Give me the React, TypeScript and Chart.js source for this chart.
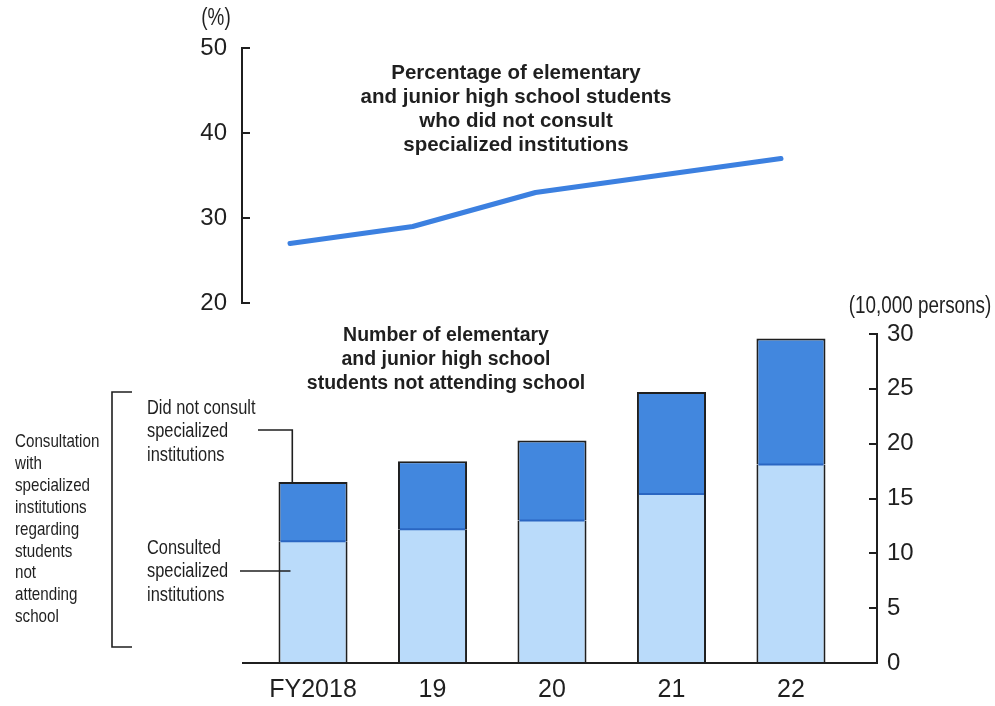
import React, { useEffect, useRef } from "react";
import { Chart, registerables } from "chart.js";

Chart.register(...registerables);

// Fiscal years on the horizontal axis
const years = ["FY2018", "19", "20", "21", "22"];
// Elementary and junior high school students not attending school (10,000 persons)
const consulted = [11.1, 12.2, 13.0, 15.4, 18.1];
const notConsulted = [5.4, 6.2, 7.3, 9.3, 11.5];
// Share of those students who did not consult specialized institutions (%)
const notConsultedShare = [27, 29, 33, 35, 37];
const shareTicks = [20, 30, 40, 50];
const countTicks = [0, 5, 10, 15, 20, 25, 30];

const W = 995;
const H = 706;
const INK = "#1f1f1f";
const DARK = "#4287de";
const LIGHT = "#badbfa";
const SPLIT = "#2a66c2";
const LINE = "#3c80e0";
const SANS = '"Liberation Sans", Arial, sans-serif';
const NARROW_SCALE = 0.82;

type Ctx = CanvasRenderingContext2D;

// Horizontally condensed text, anchored by the current textAlign
const narrowText = (ctx: Ctx, t: string, x: number, y: number) => {
  ctx.save();
  ctx.translate(x, y);
  ctx.scale(NARROW_SCALE, 1);
  ctx.fillText(t, 0, 0);
  ctx.restore();
};

const narrowLines = (ctx: Ctx, lines: string[], x: number, y: number, step: number) => {
  lines.forEach((t, i) => narrowText(ctx, t, x, y + i * step));
};

const textLines = (ctx: Ctx, lines: string[], x: number, y: number, step: number) => {
  lines.forEach((t, i) => ctx.fillText(t, x, y + i * step));
};

const lineNotes = {
  id: "lineNotes",
  afterDraw(chart: any) {
    const ctx: Ctx = chart.ctx;
    ctx.save();
    ctx.fillStyle = INK;
    ctx.textAlign = "center";
    ctx.textBaseline = "middle";
    ctx.font = `23px ${SANS}`;
    narrowText(ctx, "(%)", 216, 19);
    ctx.font = `bold 20.5px ${SANS}`;
    textLines(
      ctx,
      [
        "Percentage of elementary",
        "and junior high school students",
        "who did not consult",
        "specialized institutions",
      ],
      516,
      73,
      24
    );
    ctx.restore();
  },
};

const barNotes = {
  id: "barNotes",
  afterDatasetsDraw(chart: any) {
    // boundary between the two stacked segments
    const ctx: Ctx = chart.ctx;
    const dark = chart.getDatasetMeta(1).data;
    ctx.save();
    ctx.strokeStyle = SPLIT;
    ctx.lineWidth = 2;
    dark.forEach((bar: any) => {
      ctx.beginPath();
      ctx.moveTo(bar.x - bar.width / 2 + 2, bar.base);
      ctx.lineTo(bar.x + bar.width / 2 - 2, bar.base);
      ctx.stroke();
    });
    ctx.restore();
  },
  afterDraw(chart: any) {
    const ctx: Ctx = chart.ctx;
    const first = chart.getDatasetMeta(1).data[0];
    ctx.save();
    ctx.fillStyle = INK;
    ctx.strokeStyle = INK;
    ctx.textBaseline = "middle";

    ctx.textAlign = "center";
    ctx.font = `23px ${SANS}`;
    narrowText(ctx, "(10,000 persons)", 920, 307);

    ctx.font = `bold 19.5px ${SANS}`;
    textLines(
      ctx,
      ["Number of elementary", "and junior high school", "students not attending school"],
      446,
      336,
      24
    );

    ctx.textAlign = "left";
    ctx.font = `18.5px ${SANS}`;
    narrowLines(
      ctx,
      [
        "Consultation",
        "with",
        "specialized",
        "institutions",
        "regarding",
        "students",
        "not",
        "attending",
        "school",
      ],
      15,
      442,
      21.9
    );

    ctx.font = `20px ${SANS}`;
    narrowLines(ctx, ["Did not consult", "specialized", "institutions"], 147, 408, 23.5);
    narrowLines(ctx, ["Consulted", "specialized", "institutions"], 147, 548, 23.5);

    // bracket grouping the two series labels
    ctx.lineWidth = 1.6;
    ctx.beginPath();
    ctx.moveTo(132, 392);
    ctx.lineTo(112, 392);
    ctx.lineTo(112, 647);
    ctx.lineTo(132, 647);
    ctx.stroke();

    // leader lines to the first bar
    const lx = first.x - first.width * 0.3;
    ctx.beginPath();
    ctx.moveTo(258, 430);
    ctx.lineTo(lx, 430);
    ctx.lineTo(lx, first.y);
    ctx.stroke();

    ctx.beginPath();
    ctx.moveTo(240, 571);
    ctx.lineTo(first.x - first.width / 2 + 12, 571);
    ctx.stroke();
    ctx.restore();
  },
};

export default function App() {
  const lineRef = useRef<HTMLCanvasElement>(null);
  const barRef = useRef<HTMLCanvasElement>(null);

  useEffect(() => {
    document.body.style.margin = "0";
    document.body.style.background = "#ffffff";

    const tickFont = { family: SANS, size: 24 };

    const barChart = new Chart(barRef.current as HTMLCanvasElement, {
      type: "bar",
      data: {
        datasets: [
          {
            label: "Consulted specialized institutions",
            data: consulted.map((v, i) => ({ x: i, y: v })),
            backgroundColor: LIGHT,
            borderColor: INK,
            borderWidth: { left: 2, right: 2, top: 0, bottom: 0 },
            borderSkipped: false,
            barPercentage: 0.578,
            categoryPercentage: 1,
          },
          {
            label: "Did not consult specialized institutions",
            data: notConsulted.map((v, i) => ({ x: i, y: v })),
            backgroundColor: DARK,
            borderColor: INK,
            borderWidth: { left: 2, right: 2, top: 2, bottom: 0 },
            borderSkipped: false,
            barPercentage: 0.578,
            categoryPercentage: 1,
          },
        ],
      },
      options: {
        responsive: false,
        animation: false,
        layout: { padding: { left: 243, top: 334, right: 0, bottom: 0 } },
        plugins: { legend: { display: false }, tooltip: { enabled: false } },
        scales: {
          x: {
            type: "linear",
            stacked: true,
            offset: false,
            min: -0.586,
            max: 4.72,
            afterBuildTicks: (scale: any) => {
              scale.ticks = years.map((_, i) => ({ value: i }));
            },
            ticks: {
              callback: (v: any) => years[v] ?? "",
              font: { family: SANS, size: 25 },
              color: INK,
              padding: 12,
              maxRotation: 0,
              autoSkip: false,
            },
            grid: { display: false, drawTicks: false, offset: false },
            border: { color: INK, width: 2, z: 1 },
            afterFit: (scale: any) => {
              scale.height = H - 663;
            },
          },
          y: {
            position: "right",
            stacked: true,
            min: countTicks[0],
            max: countTicks[countTicks.length - 1],
            afterBuildTicks: (scale: any) => {
              scale.ticks = countTicks.map((v) => ({ value: v }));
            },
            ticks: { font: tickFont, color: INK, padding: 18 },
            grid: { drawOnChartArea: false, tickLength: -8, color: INK, lineWidth: 2 },
            border: { color: INK, width: 2, z: 1 },
            afterFit: (scale: any) => {
              scale.width = W - 877;
            },
          },
        },
      },
      plugins: [barNotes],
    } as any);

    const lineChart = new Chart(lineRef.current as HTMLCanvasElement, {
      type: "line",
      data: {
        datasets: [
          {
            label: "Did not consult specialized institutions (%)",
            data: notConsultedShare.map((v, i) => ({ x: i, y: v })),
            borderColor: LINE,
            borderWidth: 5,
            pointRadius: 0,
            tension: 0,
            borderCapStyle: "round",
            borderJoinStyle: "round",
            fill: false,
          },
        ],
      },
      options: {
        responsive: false,
        animation: false,
        layout: { padding: { left: 0, top: 48, right: W - 877, bottom: H - 303 } },
        plugins: { legend: { display: false }, tooltip: { enabled: false } },
        scales: {
          x: { type: "linear", display: false, min: -0.391, max: 4.782 },
          y: {
            position: "left",
            min: shareTicks[0],
            max: shareTicks[shareTicks.length - 1],
            afterBuildTicks: (scale: any) => {
              scale.ticks = shareTicks.map((v) => ({ value: v }));
            },
            ticks: { font: tickFont, color: INK, padding: 23 },
            grid: { drawOnChartArea: false, tickLength: -8, color: INK, lineWidth: 2 },
            border: { color: INK, width: 2, z: 1 },
            afterFit: (scale: any) => {
              scale.width = 242;
            },
          },
        },
      },
      plugins: [lineNotes],
    } as any);

    return () => {
      barChart.destroy();
      lineChart.destroy();
    };
  }, []);

  const canvasStyle: React.CSSProperties = { position: "absolute", left: 0, top: 0 };
  return (
    <div style={{ position: "relative", width: W, height: H, background: "#ffffff" }}>
      <canvas ref={barRef} width={W} height={H} style={canvasStyle} />
      <canvas ref={lineRef} width={W} height={H} style={{ ...canvasStyle, pointerEvents: "none" }} />
    </div>
  );
}
